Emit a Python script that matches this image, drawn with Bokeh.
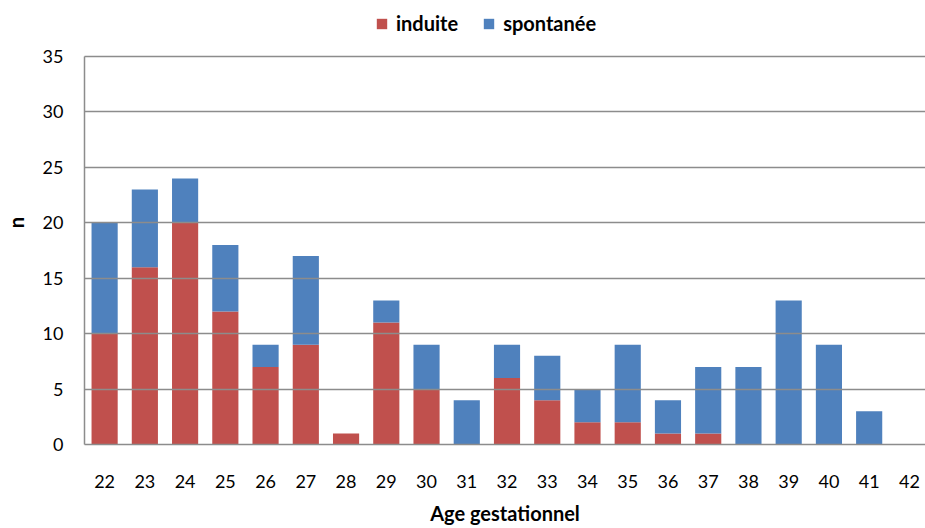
from bokeh.plotting import figure
from bokeh.models import ColumnDataSource, Range1d, Legend, LegendItem, FixedTicker
from bokeh.embed import file_html
from bokeh.resources import INLINE

ages = [22, 23, 24, 25, 26, 27, 28, 29, 30, 31, 32, 33, 34, 35, 36, 37, 38, 39, 40, 41, 42]
induite = [10, 16, 20, 12, 7, 9, 1, 11, 5, 0, 6, 4, 2, 2, 1, 1, 0, 0, 0, 0, 0]
spontanee = [10, 7, 4, 6, 2, 8, 0, 2, 4, 4, 3, 4, 3, 7, 3, 6, 7, 13, 9, 3, 0]
y_ticks = [0, 5, 10, 15, 20, 25, 30, 35]

FONT = "Lato"
GRID = "#8c8c8c"

W, H = 925, 528
TOP_PAD = 56      # room for the legend above the 35 gridline
BOTTOM = 84
frame_h = H - BOTTOM
y_max = y_ticks[-1]
y_end = y_max * frame_h / (frame_h - TOP_PAD)

src = ColumnDataSource(dict(age=ages, induite=induite, spontanee=spontanee))

p = figure(width=W, height=H, output_backend="svg", toolbar_location=None,
           x_range=Range1d(21.5, 42.4), y_range=Range1d(0, y_end),
           min_border_left=83, min_border_right=0, min_border_top=0, min_border_bottom=BOTTOM)

r = p.vbar_stack(["induite", "spontanee"], x="age", width=0.65, source=src,
                 color=["#C0504D", "#4F81BD"], line_color=None)

p.outline_line_color = None
p.xgrid.grid_line_color = None
p.ygrid.grid_line_color = GRID
p.ygrid.grid_line_width = 1.5
p.ygrid.level = "overlay"

p.yaxis.ticker = FixedTicker(ticks=y_ticks)
p.yaxis.bounds = (0, y_max)
p.xaxis.ticker = FixedTicker(ticks=ages)
for ax in (p.xaxis, p.yaxis):
    ax.major_tick_line_color = None
    ax.minor_tick_line_color = None
    ax.axis_line_color = GRID
    ax.axis_line_width = 1.5
    ax.major_label_text_font = FONT
    ax.major_label_text_font_size = "18px"
    ax.major_label_text_color = "#000000"
    ax.axis_label_text_font = FONT
    ax.axis_label_text_font_size = "20px"
    ax.axis_label_text_font_style = "bold"
    ax.axis_label_text_color = "#000000"

p.xaxis.major_label_standoff = 24
p.yaxis.major_label_standoff = 15
p.xaxis.axis_label = "Age gestationnel"
p.xaxis.axis_label_standoff = 10
p.yaxis.axis_label = "n"
p.yaxis.axis_label_standoff = 12

legend = Legend(items=[LegendItem(label="induite", renderers=[r[0]]),
                       LegendItem(label="spontanée", renderers=[r[1]])],
                orientation="horizontal", location=(291, frame_h - 35),
                label_text_font=FONT, label_text_font_size="20px", label_text_font_style="bold",
                label_text_color="#000000",
                glyph_width=13, glyph_height=13, label_standoff=8, spacing=24,
                border_line_color=None, background_fill_alpha=0, margin=0, padding=5)
p.add_layout(legend, "center")

open("out.html", "w").write(file_html(p, INLINE))
